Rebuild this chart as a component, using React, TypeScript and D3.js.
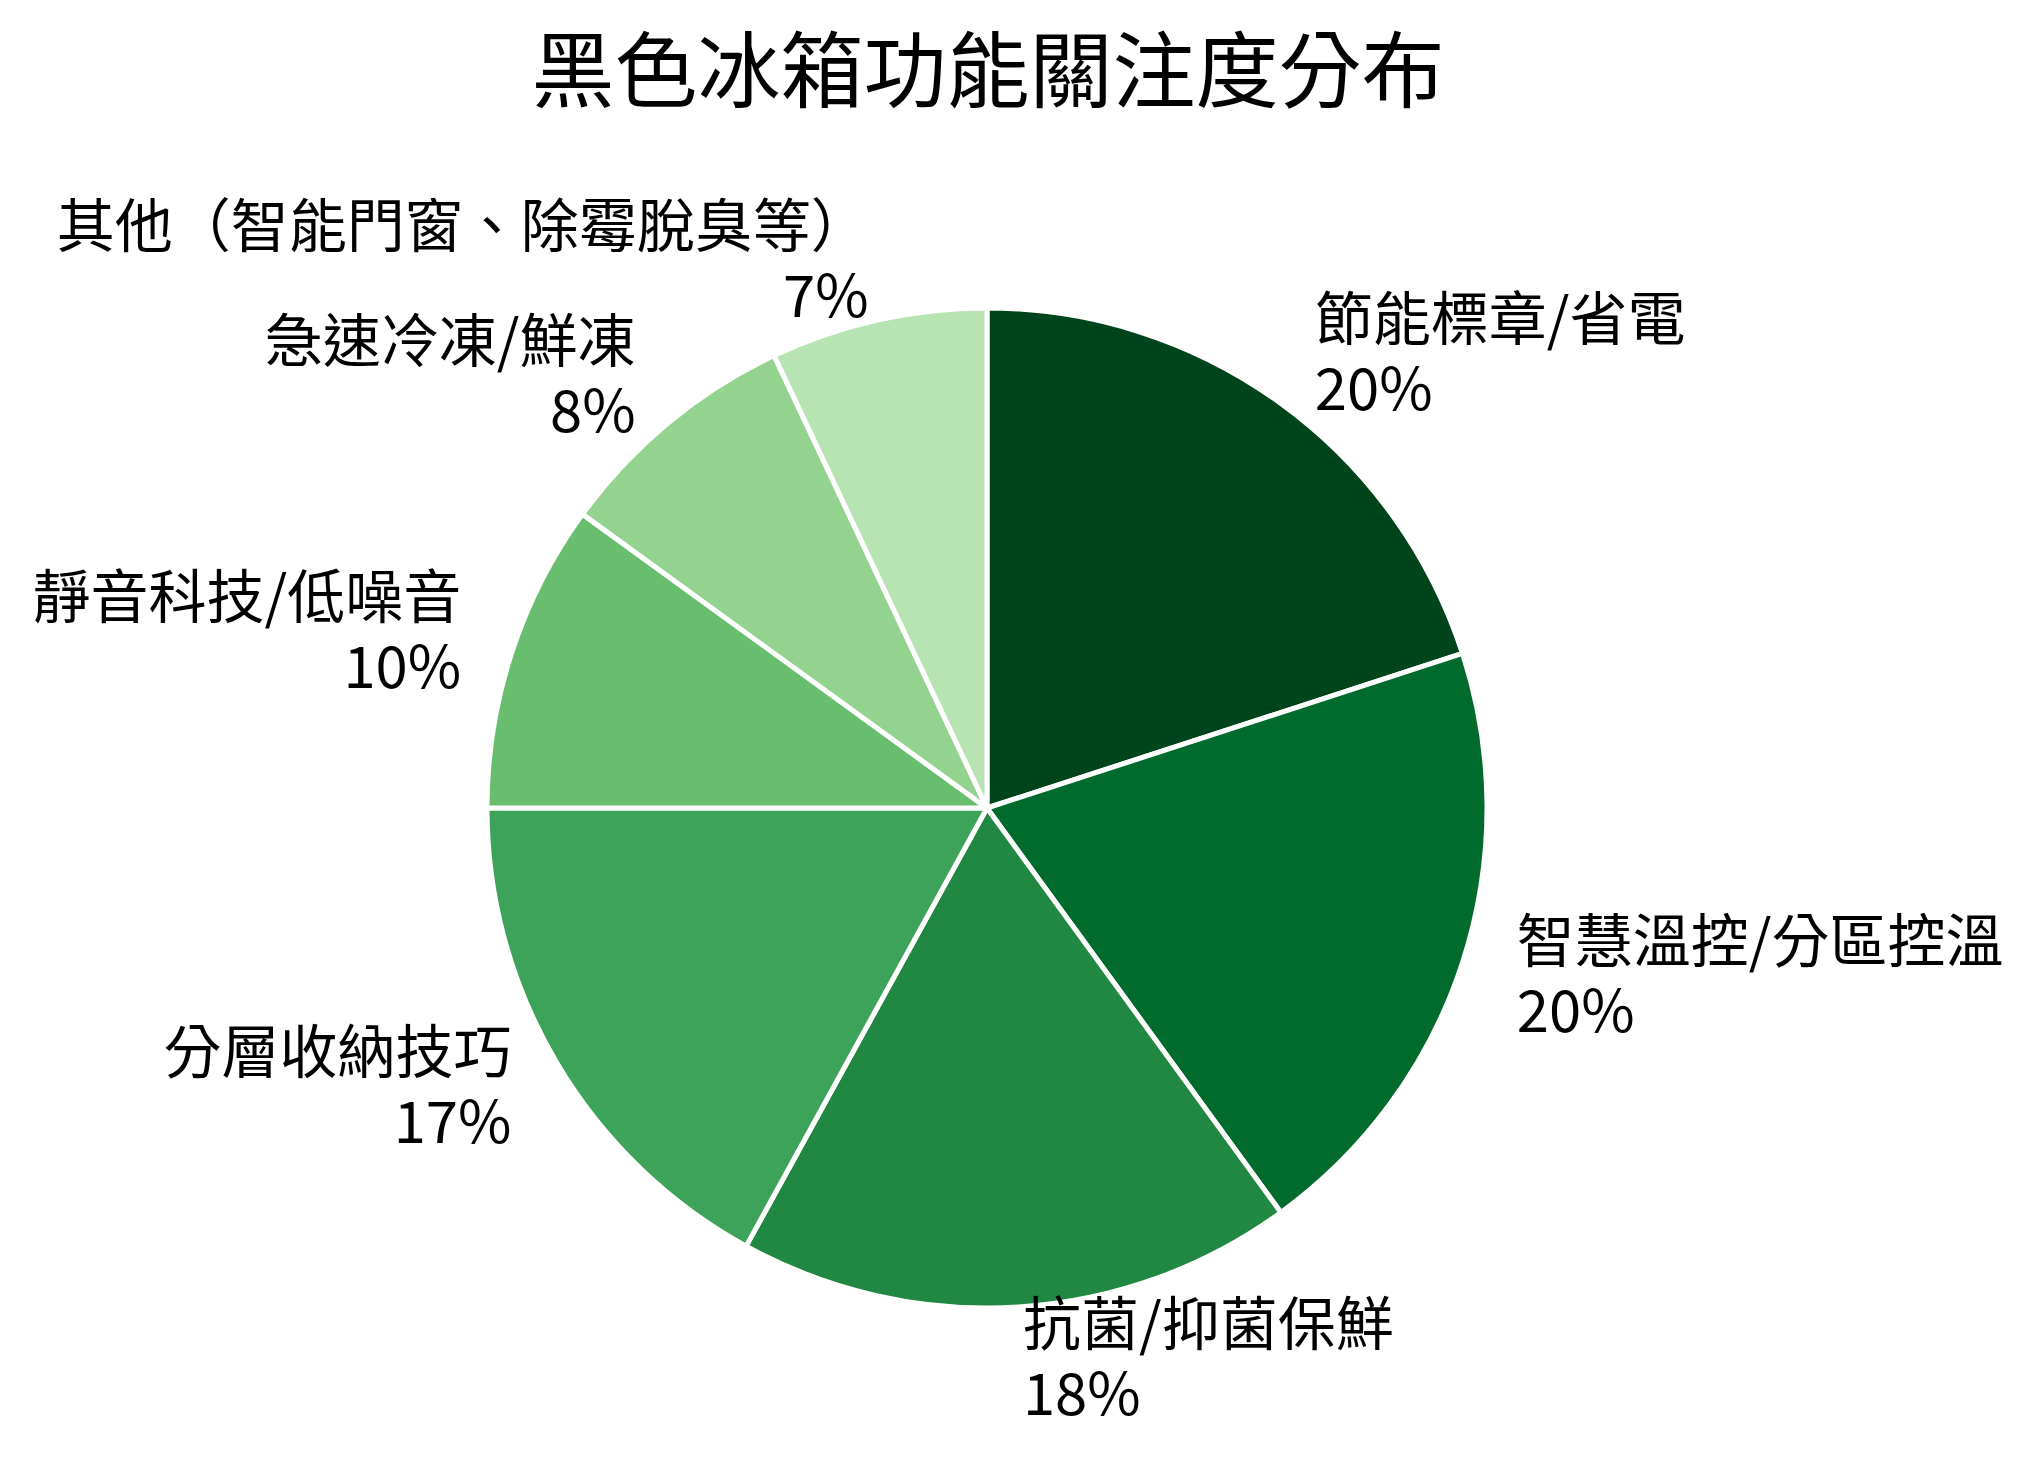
import React, { useEffect, useRef } from 'react';
import * as d3 from 'd3';

const categories = [
  '節能標章/省電',
  '智慧溫控/分區控溫',
  '抗菌/抑菌保鮮',
  '分層收納技巧',
  '靜音科技/低噪音',
  '急速冷凍/鮮凍',
  '其他（智能門窗、除霉脫臭等）',
];
const shares = [20, 20, 18, 17, 10, 8, 7];
const palette = ['#00441b', '#006b2c', '#208842', '#3da35a', '#68bd6f', '#94d290', '#b8e3b2'];
const title = '黑色冰箱功能關注度分布';

const W = 2033;
const H = 1468;

const App: React.FC = () => {
  const svgRef = useRef<SVGSVGElement>(null);

  useEffect(() => {
    document.body.style.margin = '0';
    if (!svgRef.current) return;
    const svg = d3.select(svgRef.current);
    svg.selectAll('*').remove();

    const cx = 987;
    const cy = 808;
    const radius = 500;
    const labelRadius = 556;
    const font = '"Noto Sans CJK TC", "Noto Sans CJK SC", sans-serif';

    const rows = categories.map((name, i) => ({ name, value: shares[i], color: palette[i] }));

    const pie = d3.pie<typeof rows[number]>()
      .sort(null)
      .value(d => d.value)
      .startAngle(0)
      .endAngle(2 * Math.PI);

    const arc = d3.arc<d3.PieArcDatum<typeof rows[number]>>()
      .innerRadius(0)
      .outerRadius(radius);

    const arcs = pie(rows);

    const g = svg.append('g').attr('transform', `translate(${cx},${cy})`);

    g.selectAll('path')
      .data(arcs)
      .join('path')
      .attr('d', arc)
      .attr('fill', d => d.data.color)
      .attr('stroke', '#ffffff')
      .attr('stroke-width', 5)
      .attr('stroke-linejoin', 'round');

    // labels: name + percent, two lines centred on the label point
    const labels = g.selectAll('g.label')
      .data(arcs)
      .join('g')
      .attr('class', 'label')
      .attr('font-family', font)
      .attr('font-size', 58)
      .attr('fill', '#000000');

    labels.each(function (d) {
      const a = (d.startAngle + d.endAngle) / 2;
      const right = Math.sin(a) >= 0;
      const x = labelRadius * Math.sin(a) + (right ? 1 : 3);
      const y = -labelRadius * Math.cos(a) - 8;
      const anchor = right ? 'start' : 'end';
      const sel = d3.select(this);
      sel.append('text')
        .attr('x', x)
        .attr('y', y - 35)
        .attr('text-anchor', anchor)
        .attr('dominant-baseline', 'central')
        .text(d.data.name);
      sel.append('text')
        .attr('x', x)
        .attr('y', y + 35)
        .attr('text-anchor', anchor)
        .attr('dominant-baseline', 'central')
        .text(`${d.data.value}%`);
    });

    svg.append('text')
      .attr('x', 988)
      .attr('y', 65)
      .attr('text-anchor', 'middle')
      .attr('dominant-baseline', 'central')
      .attr('font-family', font)
      .attr('font-size', 83)
      .attr('fill', '#000000')
      .text(title);
  }, []);

  return (
    <svg ref={svgRef} width={W} height={H} style={{ display: 'block', background: '#ffffff' }}></svg>
  );
};

export default App;
